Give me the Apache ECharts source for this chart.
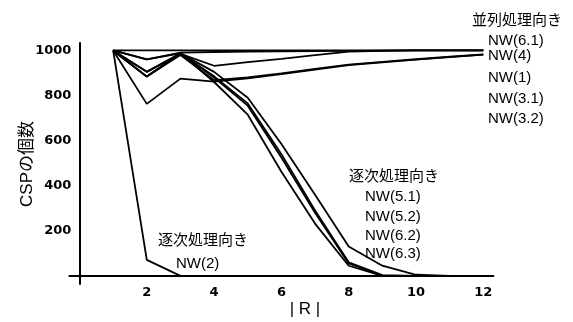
<!DOCTYPE html>
<html>
<head>
<meta charset="utf-8">
<script src="https://cdn.jsdelivr.net/npm/echarts@6/dist/echarts.min.js"></script>
<style>
html,body{margin:0;padding:0;background:#fff;}
#chart{width:573px;height:322px;}
</style>
</head>
<body>
<div id="chart"></div>
<script>
// |R| values (x axis)
const xValues = [1, 2, 3, 4, 5, 6, 7, 8, 9, 10, 11, 12];
// parallel-friendly networks
const nw61 = [1000, 1000, 1000, 1000, 1000, 1000, 1000, 1000, 1000, 1000, 1000, 1000];
const nw4  = [1000, 960, 990, 993, 995, 996, 997, 998, 999, 1000, 1000, 1000];
const nw1  = [1000, 905, 985, 932, 948, 963, 979, 995, 998, 1000, 1000, 1000];
const nw31 = [1000, 884, 980, 868, 880, 898, 918, 937, 949, 961, 972, 982];
const nw32 = [1000, 763, 875, 862, 876, 895, 915, 935, 947, 959, 970, 981];
// sequential-friendly networks
const nw51 = [1000, 884, 987, 860, 715, 462, 232, 45, 0, 0, 0, 0];
const nw52 = [1000, 905, 987, 880, 755, 525, 280, 55, 0, 0, 0, 0];
const nw62 = [1000, 884, 987, 885, 765, 540, 290, 60, 3, 0, 0, 0];
const nw63 = [1000, 960, 987, 905, 790, 585, 360, 130, 45, 5, 0, 0];
const nw2  = [1000, 71, 0, 0, 0, 0, 0, 0, 0, 0, 0, 0];
// tick labels
const xTickLabels = [2, 4, 6, 8, 10, 12];
const yTickLabels = [200, 400, 600, 800, 1000];

const seriesList = [nw61, nw4, nw1, nw31, nw32, nw51, nw52, nw62, nw63, nw2];

const chart = echarts.init(document.getElementById('chart'), null, {renderer: 'canvas'});

const jp = "'Liberation Sans', 'Noto Sans CJK JP', sans-serif";

function txt(text, x, y, size, extra) {
  return Object.assign({
    type: 'text', x: x, y: y, silent: true,
    style: {text: text, fontSize: size, fontFamily: jp, fill: '#000', align: 'left', verticalAlign: 'middle'}
  }, extra || {});
}

chart.setOption({
  animation: false,
  backgroundColor: '#fff',
  grid: {left: 69.4, right: 79.6, top: 43, bottom: 38, containLabel: false},
  xAxis: {
    type: 'value', min: -0.3, max: 12.3, splitNumber: 7,
    axisLine: {onZero: true, lineStyle: {color: '#000', width: 2}},
    axisTick: {show: false},
    splitLine: {show: false},
    axisLabel: {
      margin: 2, color: '#000', fontFamily: 'DejaVu Sans', fontWeight: 'bold', fontSize: 13,
      showMinLabel: false, showMaxLabel: false, hideOverlap: false,
      formatter: v => xTickLabels.indexOf(v) >= 0 ? String(v) : ''
    }
  },
  yAxis: {
    type: 'value', min: -36, max: 1033, splitNumber: 5,
    axisLine: {onZero: true, lineStyle: {color: '#000', width: 2}},
    axisTick: {show: false},
    splitLine: {show: false},
    axisLabel: {
      margin: -2, color: '#000', fontFamily: 'DejaVu Sans', fontWeight: 'bold', fontSize: 13,
      showMinLabel: false, showMaxLabel: false,
      formatter: v => yTickLabels.indexOf(v) >= 0 ? String(v) : ''
    }
  },
  series: seriesList.map(arr => ({
    type: 'line',
    data: xValues.map((x, i) => [x, arr[i]]),
    showSymbol: false,
    symbol: 'none',
    lineStyle: {color: '#000', width: 1.8},
    z: 3
  })),
  graphic: [
    txt('CSPの個数', 27, 164, 17, {rotation: Math.PI / 2, style: {text: 'CSPの個数', fontSize: 17, fontFamily: jp, fill: '#000', align: 'center', verticalAlign: 'middle'}}),
    txt('| R |', 305, 309, 17, {style: {text: '| R |', fontSize: 17, fontFamily: jp, fill: '#000', align: 'center', verticalAlign: 'middle'}}),
    txt('並列処理向き', 472, 21, 15),
    txt('NW(6.1)', 488, 41, 15),
    txt('NW(4)', 488, 56, 15),
    txt('NW(1)', 488, 78, 15),
    txt('NW(3.1)', 488, 99, 15),
    txt('NW(3.2)', 488, 119, 15),
    txt('逐次処理向き', 349, 177, 15),
    txt('NW(5.1)', 365, 197, 15),
    txt('NW(5.2)', 365, 217, 15),
    txt('NW(6.2)', 365, 236, 15),
    txt('NW(6.3)', 365, 254, 15),
    txt('逐次処理向き', 158, 241, 15),
    txt('NW(2)', 176, 264, 15)
  ]
});
</script>
</body>
</html>
